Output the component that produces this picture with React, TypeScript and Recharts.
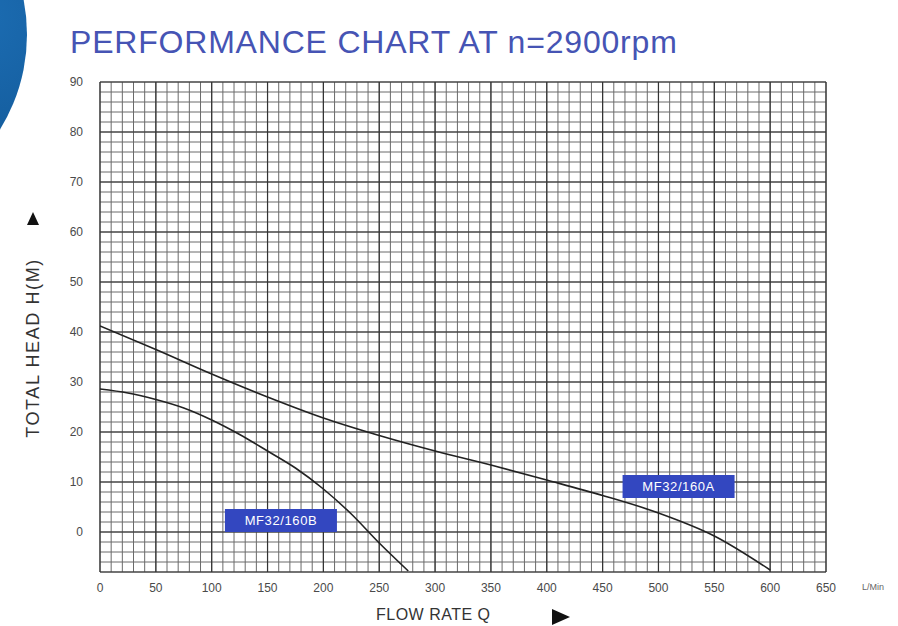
import React from 'react';
import { LineChart, Line, XAxis, YAxis, CartesianGrid, ReferenceLine, ReferenceDot } from 'recharts';

// pump curves (flow L/min, head m)
const flowA = [0, 50, 100, 150, 200, 250, 300, 350, 400, 450, 500, 550, 600];
const headA = [41.2, 36.5, 31.6, 27.0, 22.8, 19.3, 16.2, 13.4, 10.4, 7.3, 3.8, -0.8, -7.6];

const flowB = [0, 25, 50, 75, 100, 125, 150, 175, 200, 225, 250, 276];
const headB = [28.6, 27.8, 26.5, 24.8, 22.4, 19.5, 16.2, 12.8, 8.6, 3.6, -2.2, -7.8];

const xLabels = [0, 50, 100, 150, 200, 250, 300, 350, 400, 450, 500, 550, 600, 650];
const yLabels = [0, 10, 20, 30, 40, 50, 60, 70, 80, 90];

const tags = [
  { name: 'MF32/160A', flow: 518, head: 9.1 },
  { name: 'MF32/160B', flow: 162, head: 2.3 },
];

const X_MIN = 0;
const X_MAX = 650;
const Y_MIN = -8;
const Y_MAX = 90;

const xGrid = Array.from({ length: (X_MAX - X_MIN) / 10 + 1 }, (_, i) => X_MIN + i * 10);
const yGrid = Array.from({ length: (Y_MAX - Y_MIN) / 2 + 1 }, (_, i) => Y_MIN + i * 2);

const seriesA = flowA.map((q, i) => ({ q, h: headA[i] }));
const seriesB = flowB.map((q, i) => ({ q, h: headB[i] }));

const FONT = '"Liberation Sans", Arial, sans-serif';

const CurveTag = (props: any) => {
  const { cx, cy, text } = props;
  return (
    <g>
      <rect x={cx - 56} y={cy - 11.5} width={112} height={23} fill="#3347c0" />
      <text
        x={cx}
        y={cy + 4.5}
        textAnchor="middle"
        fill="#ffffff"
        fontSize={13}
        letterSpacing={0.6}
        fontFamily={FONT}
      >
        {text}
      </text>
    </g>
  );
};

export default function App() {
  return (
    <div style={{ position: 'absolute', left: 0, top: 0, width: 898, height: 626, background: '#fff', overflow: 'hidden', fontFamily: FONT }}>
      {/* decorative blue disc at the left edge */}
      <div style={{
        position: 'absolute',
        left: -334,
        top: -146,
        width: 361,
        height: 361,
        borderRadius: '50%',
        background: 'radial-gradient(circle at 85% 45%, #1c6db3 0%, #0f528f 60%, #0a3d70 100%)'
      }} />

      <div style={{
        position: 'absolute',
        left: 70,
        top: 22,
        fontSize: 32,
        letterSpacing: 0.8,
        color: '#4654b4',
        whiteSpace: 'nowrap',
        lineHeight: '40px'
      }}>
        PERFORMANCE CHART AT n=2900rpm
      </div>

      <LineChart
        width={898}
        height={626}
        margin={{ top: 82, right: 72, bottom: 24, left: 70 }}
        style={{ position: 'absolute', left: 0, top: 0 }}
      >
        <CartesianGrid stroke="#6a6a6a" strokeWidth={1} horizontalValues={yGrid} verticalValues={xGrid} />
        {xLabels.map((v) => (
          <ReferenceLine key={`vx-${v}`} x={v} stroke="#333" strokeWidth={1.2} />
        ))}
        {yLabels.map((v) => (
          <ReferenceLine key={`hy-${v}`} y={v} stroke="#333" strokeWidth={1.2} />
        ))}
        <ReferenceLine y={Y_MIN} stroke="#333" strokeWidth={1.2} />
        <XAxis
          type="number"
          dataKey="q"
          domain={[X_MIN, X_MAX]}
          ticks={xLabels}
          interval={0}
          allowDataOverflow
          axisLine={false}
          tickLine={false}
          tickSize={0}
          tickMargin={11}
          height={30}
          tick={{ fontSize: 12, fill: '#4a4a4a', fontFamily: FONT }}
        />
        <YAxis
          type="number"
          dataKey="h"
          domain={[Y_MIN, Y_MAX]}
          ticks={yLabels}
          interval={0}
          allowDataOverflow
          axisLine={false}
          tickLine={false}
          tickSize={0}
          tickMargin={17}
          width={30}
          tick={{ fontSize: 12, fill: '#4a4a4a', fontFamily: FONT }}
        />
        <Line
          data={seriesA}
          dataKey="h"
          type="monotone"
          stroke="#222"
          strokeWidth={1.6}
          dot={false}
          isAnimationActive={false}
        />
        <Line
          data={seriesB}
          dataKey="h"
          type="monotone"
          stroke="#222"
          strokeWidth={1.6}
          dot={false}
          isAnimationActive={false}
        />
        {tags.map((t) => (
          <ReferenceDot
            key={t.name}
            x={t.flow}
            y={t.head}
            r={0}
            shape={(p: any) => <CurveTag {...p} text={t.name} />}
          />
        ))}
      </LineChart>

      <div style={{ position: 'absolute', left: 862, top: 582, fontSize: 9, color: '#666', whiteSpace: 'nowrap' }}>L/Min</div>

      <div style={{
        position: 'absolute',
        left: 33,
        top: 348,
        transform: 'translate(-50%, -50%) rotate(-90deg)',
        fontSize: 18,
        color: '#333',
        whiteSpace: 'nowrap',
        letterSpacing: 1.6,
        lineHeight: '20px'
      }}>
        TOTAL HEAD H(M)
      </div>

      <div style={{ position: 'absolute', left: 376, top: 606, fontSize: 16, lineHeight: '18px', color: '#333', whiteSpace: 'nowrap', letterSpacing: 0.5 }}>
        FLOW RATE Q
      </div>

      <svg width={898} height={626} style={{ position: 'absolute', left: 0, top: 0, pointerEvents: 'none' }}>
        <polygon points="27,225 33,212 39,225" fill="#111" />
        <polygon points="552,609 570,617 552,625" fill="#111" />
      </svg>
    </div>
  );
}
